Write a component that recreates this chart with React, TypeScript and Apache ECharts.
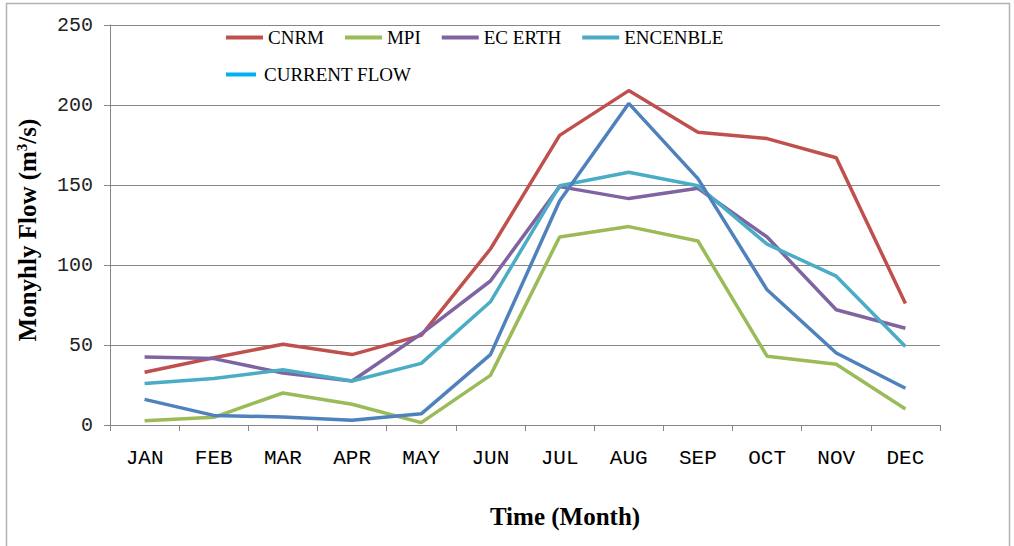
import React, { useEffect, useRef } from "react";
import * as echarts from "echarts";

const months = ["JAN", "FEB", "MAR", "APR", "MAY", "JUN", "JUL", "AUG", "SEP", "OCT", "NOV", "DEC"];
const cnrm = [33, 42, 50.5, 44, 56, 110, 181, 209, 183, 179, 167, 76];
const mpi = [2.7, 4.8, 20, 13, 1.5, 31, 117.5, 124, 115, 43, 38, 10];
const ecErth = [42.5, 41.5, 32.5, 27.5, 57, 90, 149, 141.5, 148, 117.5, 72, 60.5];
const encenble = [26, 29, 34.5, 27.5, 38.5, 77, 149.5, 158, 149.5, 113, 93, 49];
const currentFlow = [16, 6, 5, 3, 7, 44, 140, 201, 154, 84.5, 45, 23];
const yTicks = [0, 50, 100, 150, 200, 250];

const seriesNames = ["CNRM", "MPI", "EC ERTH", "ENCENBLE", "CURRENT FLOW"];
const seriesColors = ["#C0504D", "#9BBB59", "#8064A2", "#4BACC6", "#4F81BD"];
const seriesData = [cnrm, mpi, ecErth, encenble, currentFlow];

export default function App() {
  const ref = useRef<HTMLDivElement>(null);
  useEffect(() => {
    if (!ref.current) return;
    const chart = echarts.init(ref.current, undefined, { renderer: "svg" });
    const serif = "'Liberation Serif', 'Times New Roman', serif";
    const mono = "'Liberation Mono', 'Courier New', monospace";
    chart.setOption({
      animation: false,
      backgroundColor: "#ffffff",
      grid: { left: 110, right: 74, top: 25, bottom: 121, containLabel: false },
      legend: [
        {
          data: seriesNames.slice(0, 4),
          left: 221,
          top: 23,
          icon: "rect",
          itemWidth: 37,
          itemHeight: 4,
          itemGap: 21,
          textStyle: { fontFamily: serif, fontSize: 19, color: "#000" },
        },
        {
          data: [{ name: "CURRENT FLOW", itemStyle: { color: "#00B0F0" } }],
          left: 221,
          top: 60,
          icon: "rect",
          itemWidth: 30,
          itemHeight: 4,
          textStyle: { fontFamily: serif, fontSize: 19, color: "#000", padding: [0, 0, 0, 3] },
        },
      ],
      xAxis: {
        type: "category",
        data: months,
        boundaryGap: true,
        axisLine: { lineStyle: { color: "#868686", width: 1 } },
        axisTick: { show: true, length: 6, lineStyle: { color: "#868686" } },
        axisLabel: { fontFamily: mono, fontSize: 21, color: "#000", margin: 23 },
      },
      yAxis: {
        type: "value",
        min: 0,
        max: 250,
        interval: 50,
        axisLine: { show: true, lineStyle: { color: "#868686", width: 1 } },
        axisTick: { show: true, length: 6, lineStyle: { color: "#868686" } },
        axisLabel: {
          fontFamily: mono,
          fontSize: 20,
          color: "#222",
          margin: 17,
          formatter: (v: number) => (yTicks.includes(v) ? String(v) : ""),
        },
        splitLine: { show: true, lineStyle: { color: "#868686", width: 1 } },
      },
      series: seriesNames.map((name, i) => ({
        name,
        type: "line",
        data: seriesData[i],
        symbol: "none",
        color: seriesColors[i],
        lineStyle: { color: seriesColors[i], width: 3.5 },
        itemStyle: { color: seriesColors[i] },
      })),
      graphic: [
        {
          type: "rect",
          shape: { x: 6.5, y: 3.5, width: 1003, height: 600 },
          style: { fill: "none", stroke: "#B3B3B3", lineWidth: 1.5 },
          silent: true,
        },
        {
          type: "text",
          x: 27,
          y: 230,
          rotation: Math.PI / 2,
          style: {
            text: "Monyhly Flow (m{sup|3}/s)",
            fontFamily: serif,
            fontWeight: "bold",
            fontSize: 25,
            fill: "#000",
            align: "center",
            verticalAlign: "middle",
            rich: {
              sup: {
                fontFamily: serif,
                fontWeight: "bold",
                fontSize: 15,
                verticalAlign: "top",
                padding: [0, 0, 11, 0],
              },
            },
          },
        },
        {
          type: "text",
          x: 565,
          y: 516,
          style: {
            text: "Time (Month)",
            fontFamily: serif,
            fontWeight: "bold",
            fontSize: 25,
            fill: "#000",
            align: "center",
            verticalAlign: "middle",
          },
        },
      ],
    });
    return () => chart.dispose();
  }, []);
  return (
    <div
      ref={ref}
      style={{ position: "absolute", left: 0, top: 0, width: 1014, height: 546, background: "#fff" }}
    />
  );
}
